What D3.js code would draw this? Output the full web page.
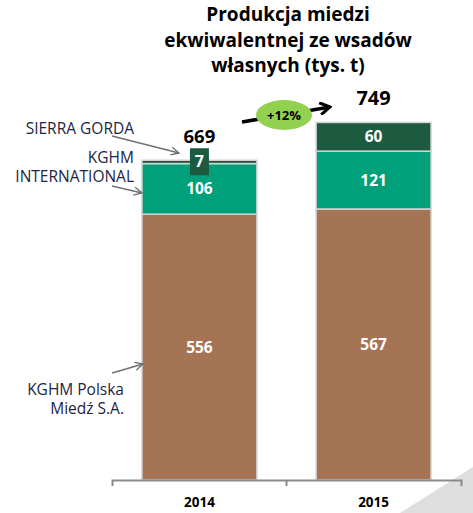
<!DOCTYPE html>
<html>
<head>
<meta charset="utf-8">
<script src="https://cdn.jsdelivr.net/npm/d3@7"></script>
<style>
  body { margin: 0; background: #fff; }
  svg { display: block; font-family: "Open Sans", sans-serif; }
</style>
</head>
<body>
<svg id="chart" width="473" height="513"></svg>
<script>
// Chart data
var years = ["2014", "2015"];
var polskaMiedz = [556, 567];
var kghmInternational = [106, 121];
var sierraGorda = [7, 60];
var totals = [669, 749];
var growthLabel = "+12%";
var titleLines = ["Produkcja miedzi", "ekwiwalentnej ze wsadów", "własnych (tys. t)"];

var svg = d3.select("#chart");

var colors = { polska: "#a57455", intl: "#00a07b", sierra: "#1d5b41" };

// scales
var x = d3.scaleBand().domain(years).range([112, 461]).paddingInner(0.34).paddingOuter(0.172);
var y = d3.scaleLinear().domain([0, 800]).range([480, 97.6]);

// page curl in the corner
svg.append("path")
  .attr("d", "M400,513L473,467L473,513Z")
  .attr("fill", "#dedede");

// stack the series
var rows = years.map(function (yr, i) {
  return { year: yr, polska: polskaMiedz[i], intl: kghmInternational[i], sierra: sierraGorda[i] };
});
var stack = d3.stack().keys(["polska", "intl", "sierra"]);
var series = stack(rows);

var layers = svg.append("g").attr("class", "bars")
  .selectAll("g")
  .data(series)
  .enter()
  .append("g")
  .attr("fill", function (d) { return colors[d.key]; });

layers.selectAll("rect")
  .data(function (d) { return d; })
  .enter()
  .append("rect")
  .attr("x", function (d) { return x(d.data.year); })
  .attr("y", function (d) { return y(d[1]); })
  .attr("width", x.bandwidth())
  .attr("height", function (d) { return y(d[0]) - y(d[1]); })
  .attr("stroke", "#d4d4d4")
  .attr("stroke-width", 1.5);

// segment labels
series.forEach(function (s) {
  s.forEach(function (d) {
    var v = d[1] - d[0];
    var cx = x(d.data.year) + x.bandwidth() / 2;
    var h = y(d[0]) - y(d[1]);
    if (h > 20) {
      svg.append("text")
        .attr("x", cx)
        .attr("y", (y(d[0]) + y(d[1])) / 2)
        .attr("dy", "0.36em")
        .attr("text-anchor", "middle")
        .attr("font-size", 15.5)
        .attr("font-weight", "bold")
        .attr("fill", "#fff")
        .text(v);
    } else {
      // small segment: boxed label sitting on the bar
      svg.append("rect")
        .attr("x", cx - 9.5)
        .attr("y", y(d[1]) - 12)
        .attr("width", 19)
        .attr("height", 27)
        .attr("fill", colors[s.key]);
      svg.append("text")
        .attr("x", cx)
        .attr("y", y(d[1]) + 1.5)
        .attr("dy", "0.36em")
        .attr("text-anchor", "middle")
        .attr("font-size", 16)
        .attr("font-weight", "bold")
        .attr("fill", "#fff")
        .text(v);
    }
  });
});

// totals above bars
svg.append("g").selectAll("text")
  .data(years)
  .enter()
  .append("text")
  .attr("x", function (d) { return x(d) + x.bandwidth() / 2; })
  .attr("y", function (d, i) { return i === 0 ? 143 : 105; })
  .attr("text-anchor", "middle")
  .attr("font-size", function (d, i) { return i === 0 ? 18.5 : 20; })
  .attr("font-weight", "bold")
  .attr("fill", "#000")
  .text(function (d, i) { return totals[i]; });

// x axis
var axis = svg.append("g")
  .attr("transform", "translate(0,480)")
  .call(d3.axisBottom(x).tickSize(0).tickSizeOuter(6).tickPadding(17));
axis.select(".domain").attr("stroke", "#8a8a8a").attr("stroke-width", 2);
axis.selectAll("text")
  .attr("font-family", "Open Sans, sans-serif")
  .attr("font-size", 13.5)
  .attr("font-weight", "bold")
  .attr("fill", "#000");
axis.append("line")
  .attr("x1", x(years[1]) - x.step() * x.paddingInner() / 2)
  .attr("x2", x(years[1]) - x.step() * x.paddingInner() / 2)
  .attr("y1", 0).attr("y2", 6)
  .attr("stroke", "#8a8a8a").attr("stroke-width", 2);

// title
svg.append("text")
  .attr("text-anchor", "middle")
  .attr("font-size", 19)
  .attr("font-weight", "bold")
  .attr("fill", "#000")
  .selectAll("tspan")
  .data(titleLines)
  .enter()
  .append("tspan")
  .attr("x", 288)
  .attr("y", function (d, i) { return 21 + i * 25.5; })
  .text(function (d) { return d; });

// arrow markers
var defs = svg.append("defs");
defs.append("marker")
  .attr("id", "greyHead")
  .attr("markerUnits", "userSpaceOnUse")
  .attr("viewBox", "0 0 10 10")
  .attr("refX", 9).attr("refY", 5)
  .attr("markerWidth", 10).attr("markerHeight", 10)
  .attr("orient", "auto")
  .append("path")
  .attr("d", "M1,1L9,5L1,9")
  .attr("fill", "none")
  .attr("stroke", "#707070")
  .attr("stroke-width", 1.4);
defs.append("marker")
  .attr("id", "blackHead")
  .attr("markerUnits", "userSpaceOnUse")
  .attr("viewBox", "0 0 14 14")
  .attr("refX", 12).attr("refY", 7)
  .attr("markerWidth", 14).attr("markerHeight", 14)
  .attr("orient", "auto")
  .append("path")
  .attr("d", "M2,1L12,7L2,13")
  .attr("fill", "none")
  .attr("stroke", "#000")
  .attr("stroke-width", 3);

// series callouts on the left
var callouts = [
  { lines: ["SIERRA GORDA"], x: 134, y: 134, from: [112, 136], to: [179, 153] },
  { lines: ["KGHM", "INTERNATIONAL"], x: 134, y: 163, from: [112, 186], to: [142, 193] },
  { lines: ["KGHM Polska", "Miedź S.A."], x: 124, y: 395, from: [112, 373], to: [143, 364] }
];
callouts.forEach(function (c) {
  svg.append("text")
    .attr("text-anchor", "end")
    .attr("font-size", 15.5)
    .attr("fill", "#1c2541")
    .selectAll("tspan")
    .data(c.lines)
    .enter()
    .append("tspan")
    .attr("x", c.x)
    .attr("y", function (d, i) { return c.y + i * 18.5; })
    .text(function (d) { return d; });
  svg.append("line")
    .attr("x1", c.from[0]).attr("y1", c.from[1])
    .attr("x2", c.to[0]).attr("y2", c.to[1])
    .attr("stroke", "#707070")
    .attr("stroke-width", 1.4)
    .attr("marker-end", "url(#greyHead)");
});

// growth arrow with badge
svg.append("line")
  .attr("x1", 242).attr("y1", 122)
  .attr("x2", 330).attr("y2", 107)
  .attr("stroke", "#000")
  .attr("stroke-width", 3.5)
  .attr("marker-end", "url(#blackHead)");
svg.append("ellipse")
  .attr("cx", 284).attr("cy", 115)
  .attr("rx", 28).attr("ry", 15)
  .attr("fill", "#92d050");
svg.append("text")
  .attr("x", 284).attr("y", 115)
  .attr("dy", "0.36em")
  .attr("text-anchor", "middle")
  .attr("font-size", 13)
  .attr("font-weight", "bold")
  .attr("fill", "#000")
  .text(growthLabel);
</script>
</body>
</html>
